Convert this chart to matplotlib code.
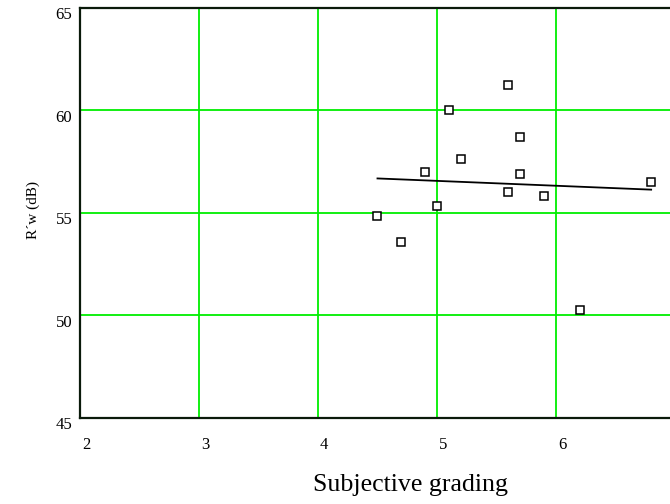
import numpy as np
import matplotlib
matplotlib.use("Agg")
import matplotlib.pyplot as plt
from matplotlib.transforms import ScaledTranslation

plt.rcParams['font.family'] = ['Liberation Serif', 'DejaVu Serif']

# subjective grading vs. measured R'w
grading = [4.5, 4.7, 4.9, 5.0, 5.1, 5.2, 5.6, 5.6, 5.7, 5.7, 5.9, 6.2, 6.8]
rw_db = [54.85, 53.55, 57.0, 55.3, 60.0, 57.6, 61.2, 56.0, 58.7, 56.9, 55.8, 50.26, 56.5]

x_ticks = [2, 3, 4, 5, 6, 7]
y_ticks = [45, 50, 55, 60, 65]

fig = plt.figure(figsize=(6.7, 5.04), dpi=100)
ax = fig.add_axes([0.1194, 0.1716, 0.888, 0.8135])

# least squares line over the graded range
slope, icept = np.polyfit(grading, rw_db, 1)
xfit = np.array([min(grading), max(grading)])
ax.plot(xfit, slope * xfit + icept, color='black', lw=1.3, zorder=3)

ax.plot(grading, rw_db, linestyle='none', marker='s', ms=5.2, mfc='white',
        mec='black', mew=1.1, zorder=4)

ax.set_xlim(2, 7)
ax.set_ylim(45, 65)
ax.set_xticks(x_ticks)
ax.set_yticks(y_ticks)
ax.grid(True, color='#00ee00', lw=1.3, zorder=1)
ax.set_axisbelow(True)
ax.tick_params(length=0, labelsize=12)
ax.tick_params(axis='y', pad=5.5)
ax.tick_params(axis='x', pad=14)

for sp in ax.spines.values():
    sp.set_color('#0a1a0a')
    sp.set_linewidth(1.6)

# nudge tick labels the way the original plotting package places them
for lbl in ax.get_yticklabels():
    lbl.set_transform(lbl.get_transform() + ScaledTranslation(0, -4 / 72, fig.dpi_scale_trans))
for lbl in ax.get_xticklabels():
    lbl.set_transform(lbl.get_transform() + ScaledTranslation(4.5 / 72, 0, fig.dpi_scale_trans))

fig.text(410.5 / 670, 1 - 485 / 504, 'Subjective grading', fontsize=18.6,
         ha='center', va='center')
fig.text(33 / 670, 1 - 210 / 504, 'R\u00b4w (dB)', fontsize=11,
         rotation=90, ha='center', va='center')

fig.savefig('out.png', dpi=100)
